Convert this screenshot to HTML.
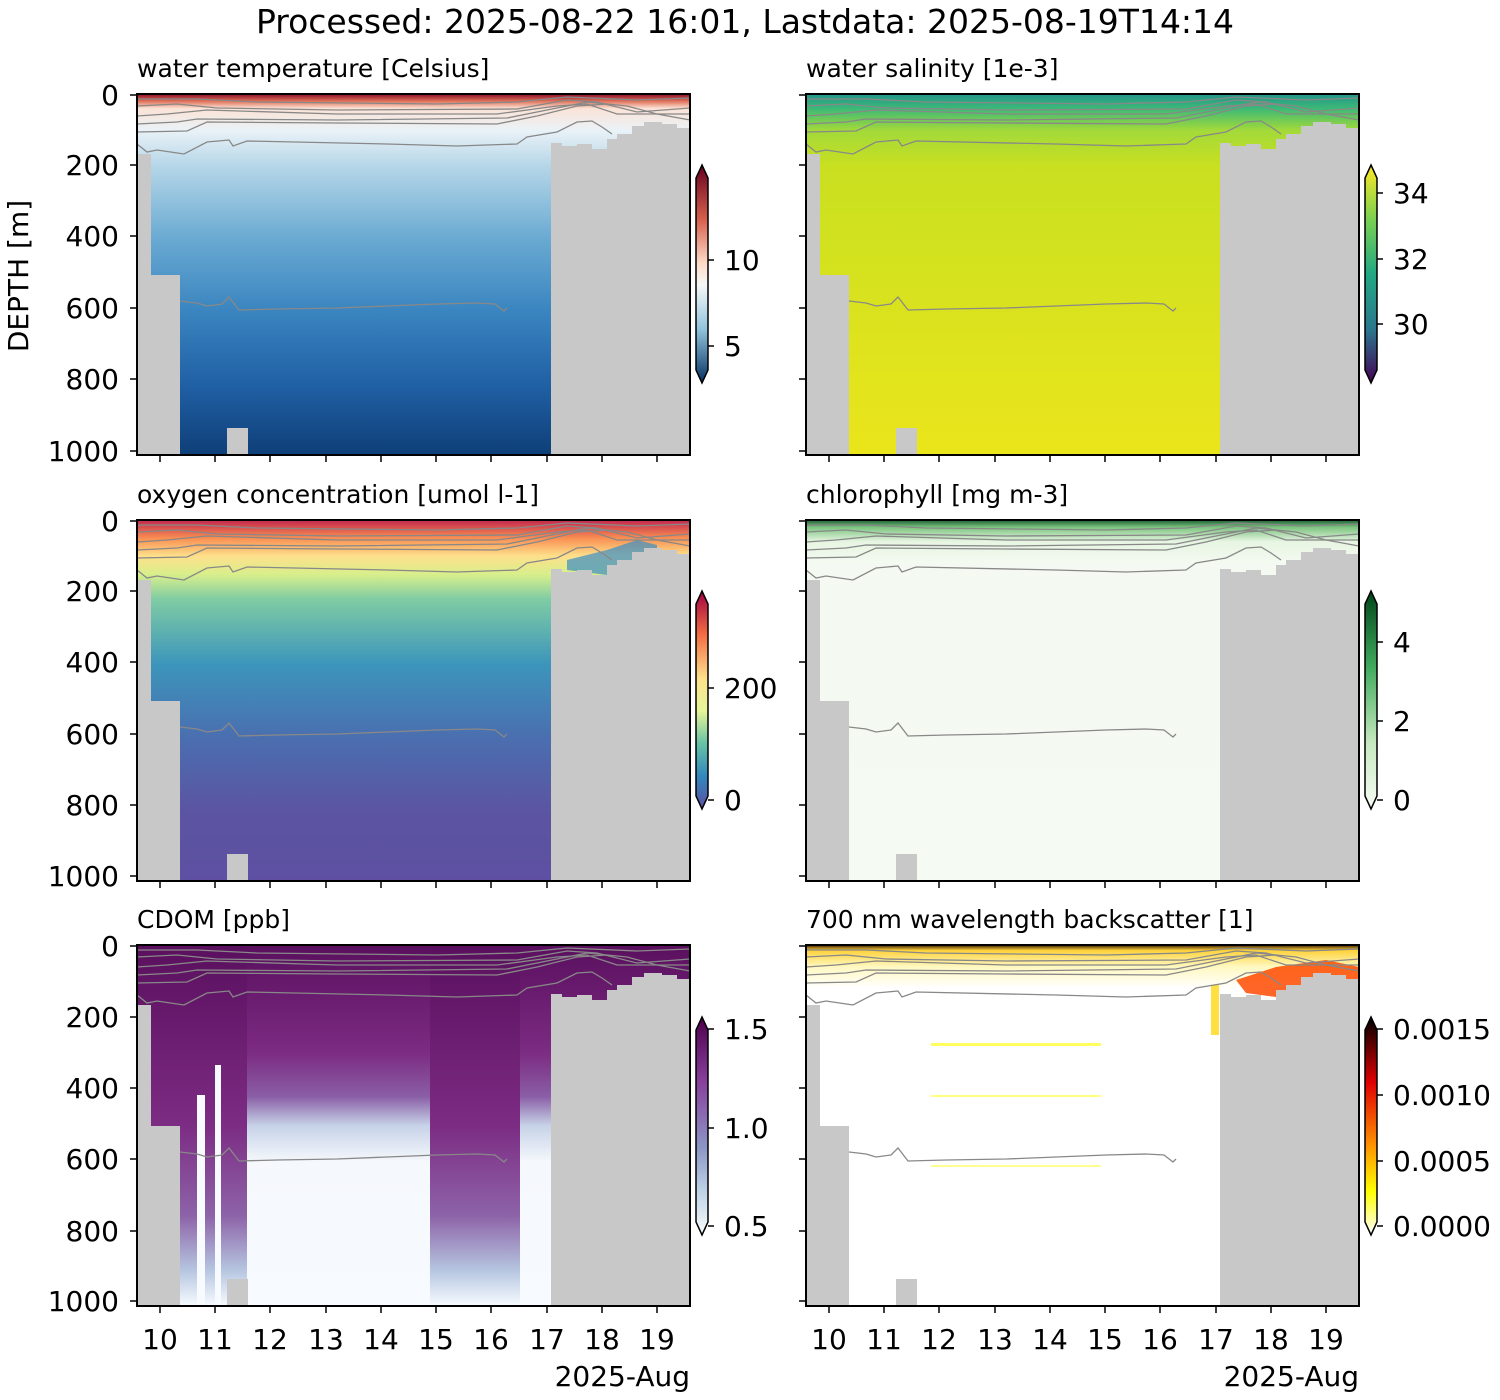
<!DOCTYPE html>
<html><head><meta charset="utf-8"><style>body{margin:0;background:#fff}svg{display:block}text{font-family:"DejaVu Sans","Liberation Sans",sans-serif;fill:#000}</style></head>
<body>
<svg width="1500" height="1400" viewBox="0 0 1500 1400" xmlns="http://www.w3.org/2000/svg">
<defs>
<linearGradient id="gT" x1="0" y1="0" x2="0" y2="1">
<stop offset="0" stop-color="#8b0a26"/><stop offset="0.02" stop-color="#e0735a"/><stop offset="0.04" stop-color="#fbe3d6"/><stop offset="0.1" stop-color="#eaf2f7"/><stop offset="0.2" stop-color="#b5d6e8"/><stop offset="0.4" stop-color="#6aaad2"/><stop offset="0.6" stop-color="#3a85c0"/><stop offset="0.8" stop-color="#2161a6"/><stop offset="1" stop-color="#0e3f78"/></linearGradient>
<linearGradient id="gS" x1="0" y1="0" x2="0" y2="1">
<stop offset="0" stop-color="#22958b"/><stop offset="0.04" stop-color="#3cb977"/><stop offset="0.1" stop-color="#a2d93a"/><stop offset="0.2" stop-color="#c9e020"/><stop offset="1" stop-color="#ebe51b"/></linearGradient>
<linearGradient id="gO" x1="0" y1="0" x2="0" y2="1">
<stop offset="0" stop-color="#c2264d"/><stop offset="0.05" stop-color="#f98e52"/><stop offset="0.1" stop-color="#fee08b"/><stop offset="0.15" stop-color="#d9ef8b"/><stop offset="0.22" stop-color="#7fcca4"/><stop offset="0.4" stop-color="#3c95bb"/><stop offset="0.6" stop-color="#4a6fb0"/><stop offset="0.8" stop-color="#5b55a3"/><stop offset="1" stop-color="#5e4fa2"/></linearGradient>
<linearGradient id="gC" x1="0" y1="0" x2="0" y2="1">
<stop offset="0" stop-color="#195c32"/><stop offset="0.02" stop-color="#7cc47f"/><stop offset="0.06" stop-color="#e7f5e2"/><stop offset="0.12" stop-color="#f4faf1"/><stop offset="1" stop-color="#f5fbf2"/></linearGradient>
<linearGradient id="gD" x1="0" y1="0" x2="0" y2="1">
<stop offset="0" stop-color="#5a0f5e"/><stop offset="0.3" stop-color="#7c2c83"/><stop offset="0.42" stop-color="#8a5ea6"/><stop offset="0.5" stop-color="#c6d2e7"/><stop offset="0.6" stop-color="#f5f8fc"/><stop offset="1" stop-color="#f7fbff"/></linearGradient>
<linearGradient id="gD2" x1="0" y1="0" x2="0" y2="1">
<stop offset="0" stop-color="#5a0f5e"/><stop offset="0.5" stop-color="#7c2c83"/><stop offset="0.75" stop-color="#8d63a8"/><stop offset="0.9" stop-color="#b5c5e0"/><stop offset="1" stop-color="#f7fbff"/></linearGradient>
<linearGradient id="gB" x1="0" y1="0" x2="0" y2="1">
<stop offset="0" stop-color="#3a1a00"/><stop offset="0.015" stop-color="#ffd23a"/><stop offset="0.06" stop-color="#fff8c0"/><stop offset="0.12" stop-color="#ffffff"/><stop offset="1" stop-color="#ffffff"/></linearGradient>
<linearGradient id="cbT" x1="0" y1="0" x2="0" y2="1"><stop offset="0" stop-color="#67001f"/><stop offset="0.25" stop-color="#d6604d"/><stop offset="0.45" stop-color="#fddbc7"/><stop offset="0.55" stop-color="#f7f7f7"/><stop offset="0.75" stop-color="#92c5de"/><stop offset="1" stop-color="#053061"/></linearGradient>
<linearGradient id="cbS" x1="0" y1="0" x2="0" y2="1"><stop offset="0" stop-color="#fde725"/><stop offset="0.25" stop-color="#7ad151"/><stop offset="0.5" stop-color="#22a884"/><stop offset="0.75" stop-color="#2a788e"/><stop offset="1" stop-color="#440154"/></linearGradient>
<linearGradient id="cbO" x1="0" y1="0" x2="0" y2="1"><stop offset="0" stop-color="#9e0142"/><stop offset="0.2" stop-color="#f46d43"/><stop offset="0.4" stop-color="#fee08b"/><stop offset="0.55" stop-color="#e6f598"/><stop offset="0.7" stop-color="#66c2a5"/><stop offset="0.85" stop-color="#3288bd"/><stop offset="1" stop-color="#5e4fa2"/></linearGradient>
<linearGradient id="cbC" x1="0" y1="0" x2="0" y2="1"><stop offset="0" stop-color="#00441b"/><stop offset="0.35" stop-color="#41ab5d"/><stop offset="0.7" stop-color="#c7e9c0"/><stop offset="1" stop-color="#f7fcf5"/></linearGradient>
<linearGradient id="cbD" x1="0" y1="0" x2="0" y2="1"><stop offset="0" stop-color="#4d004b"/><stop offset="0.3" stop-color="#88419d"/><stop offset="0.6" stop-color="#8c96c6"/><stop offset="0.8" stop-color="#bfd3e6"/><stop offset="1" stop-color="#f7fcfd"/></linearGradient>
<linearGradient id="cbB" x1="0" y1="0" x2="0" y2="1"><stop offset="0" stop-color="#000"/><stop offset="0.3" stop-color="#e00000"/><stop offset="0.6" stop-color="#ff9900"/><stop offset="0.8" stop-color="#ffff00"/><stop offset="1" stop-color="#fff"/></linearGradient>
<path id="grey" fill="#c8c8c8" d="M0,60 H14 V181 H43 V361 H0Z M90,334 H111 V361 H90Z M414,49 H425 V52 H440 V50 H455 V55 H470 V45 H480 V40 H495 V32 H507 V28 H525 V30 H540 V34 H553 V361 H414Z"/>
<g id="ct" fill="none" stroke="#888" stroke-width="1.3">
<path d="M0,5 L60,5 L120,8 L300,10 L380,8 L430,3 L500,6 L553,4"/>
<path d="M0,12 L40,10 L80,14 L200,16 L380,15 L430,6 L460,8 L500,18 L553,14"/>
<path d="M0,22 L30,20 L70,16 L200,20 L360,20 L420,12 L450,10 L480,20 L553,20"/>
<path d="M0,30 L40,28 L60,25 L200,26 L370,24 L420,14 L450,8 L490,12 L520,20 L553,26"/>
<path d="M0,38 L50,37 L70,28 L200,29 L360,30 L400,22 L440,12 L470,10"/>
<path d="M0,50 L10,58 L20,56 L47,60 L70,48 L92,46 L96,52 L110,47 L250,50 L320,52 L380,50 L390,43 L420,38 L440,28 L455,27 L465,33 L475,40"/>
<path d="M43,207 L60,209 L70,212 L85,210 L92,203 L102,216 L140,215 L200,214 L300,210 L340,209 L358,210 L367,217 L370,214"/>
</g>
</defs>

<text x="745" y="33" font-size="33" text-anchor="middle">Processed: 2025-08-22 16:01, Lastdata: 2025-08-19T14:14</text>

<g transform="translate(137,94)">
<rect width="553" height="361" fill="url(#gT)"/>
<use href="#grey"/><use href="#ct"/>
<rect width="553" height="361" fill="none" stroke="#000" stroke-width="2"/>
<text x="0" y="-17" font-size="25">water temperature [Celsius]</text>
</g>
<g transform="translate(806,94)">
<rect width="553" height="361" fill="url(#gS)"/>
<use href="#grey"/><use href="#ct"/>
<rect width="553" height="361" fill="none" stroke="#000" stroke-width="2"/>
<text x="0" y="-17" font-size="25">water salinity [1e-3]</text>
</g>
<g transform="translate(137,520)">
<rect width="553" height="361" fill="url(#gO)"/>
<path d="M430,40 L470,30 L500,20 L520,25 L520,60 L470,55 L430,50Z" fill="#3a8fc5" opacity="0.7"/>
<use href="#grey"/><use href="#ct"/>
<rect width="553" height="361" fill="none" stroke="#000" stroke-width="2"/>
<text x="0" y="-17" font-size="25">oxygen concentration [umol l-1]</text>
</g>
<g transform="translate(806,520)">
<rect width="553" height="361" fill="url(#gC)"/>
<use href="#grey"/><use href="#ct"/>
<rect width="553" height="361" fill="none" stroke="#000" stroke-width="2"/>
<text x="0" y="-17" font-size="25">chlorophyll [mg m-3]</text>
</g>
<g transform="translate(137,945)">
<rect width="553" height="361" fill="url(#gD)"/>
<rect x="0" width="110" height="361" fill="url(#gD2)"/>
<rect x="293" width="90" height="361" fill="url(#gD2)"/>
<rect x="60" y="150" width="8" height="210" fill="#f7fbff"/>
<rect x="78" y="120" width="6" height="240" fill="#f7fbff"/>
<use href="#grey"/><use href="#ct"/>
<rect width="553" height="361" fill="none" stroke="#000" stroke-width="2"/>
<text x="0" y="-17" font-size="25">CDOM [ppb]</text>
</g>
<g transform="translate(806,945)">
<rect width="553" height="361" fill="url(#gB)"/>
<rect x="125" y="98" width="170" height="3" fill="#ffff60"/>
<rect x="125" y="150" width="170" height="2" fill="#ffff80"/>
<rect x="125" y="220" width="170" height="2" fill="#ffff90"/>
<rect x="405" y="40" width="8" height="50" fill="#ffe040"/>
<path d="M430,35 L470,22 L520,15 L553,22 L553,35 L500,40 L470,52 L440,48Z" fill="#ff4a00" opacity="0.85"/>
<use href="#grey"/><use href="#ct"/>
<rect width="553" height="361" fill="none" stroke="#000" stroke-width="2"/>
<text x="0" y="-17" font-size="25">700 nm wavelength backscatter [1]</text>
</g>

<g stroke="#000" stroke-width="1.5">
<path d="M130,95 h7 M130,165 h7 M130,236 h7 M130,308 h7 M130,379 h7 M130,451 h7"/>
<path d="M799,95 h7 M799,165 h7 M799,236 h7 M799,308 h7 M799,379 h7 M799,451 h7"/>
<path d="M130,521 h7 M130,591 h7 M130,662 h7 M130,734 h7 M130,805 h7 M130,876 h7"/>
<path d="M799,521 h7 M799,591 h7 M799,662 h7 M799,734 h7 M799,805 h7 M799,876 h7"/>
<path d="M130,946 h7 M130,1017 h7 M130,1088 h7 M130,1159 h7 M130,1231 h7 M130,1301 h7"/>
<path d="M799,946 h7 M799,1017 h7 M799,1088 h7 M799,1159 h7 M799,1231 h7 M799,1301 h7"/>
</g>
<g font-size="28" text-anchor="end">
<text x="119" y="105">0</text><text x="119" y="175">200</text><text x="119" y="246">400</text><text x="119" y="318">600</text><text x="119" y="389">800</text><text x="119" y="461">1000</text>
<text x="119" y="531">0</text><text x="119" y="601">200</text><text x="119" y="672">400</text><text x="119" y="744">600</text><text x="119" y="815">800</text><text x="119" y="886">1000</text>
<text x="119" y="956">0</text><text x="119" y="1027">200</text><text x="119" y="1098">400</text><text x="119" y="1169">600</text><text x="119" y="1241">800</text><text x="119" y="1311">1000</text>
</g>
<text transform="translate(28,276) rotate(-90)" font-size="28" text-anchor="middle">DEPTH [m]</text>

<g stroke="#000" stroke-width="1.5">
<path id="xt" d="M160,455v7M215,455v7M270,455v7M326,455v7M381,455v7M436,455v7M491,455v7M547,455v7M602,455v7M657,455v7"/>
<use href="#xt" transform="translate(669,0)"/>
<use href="#xt" transform="translate(0,426)"/>
<use href="#xt" transform="translate(669,426)"/>
<use href="#xt" transform="translate(0,851)"/>
<use href="#xt" transform="translate(669,851)"/>
</g>
<g font-size="28" text-anchor="middle">
<text x="160" y="1349">10</text><text x="215" y="1349">11</text><text x="270" y="1349">12</text><text x="326" y="1349">13</text><text x="381" y="1349">14</text><text x="436" y="1349">15</text><text x="491" y="1349">16</text><text x="547" y="1349">17</text><text x="602" y="1349">18</text><text x="657" y="1349">19</text>
<text x="829" y="1349">10</text><text x="884" y="1349">11</text><text x="939" y="1349">12</text><text x="995" y="1349">13</text><text x="1050" y="1349">14</text><text x="1105" y="1349">15</text><text x="1160" y="1349">16</text><text x="1216" y="1349">17</text><text x="1271" y="1349">18</text><text x="1326" y="1349">19</text>
</g>
<text x="690" y="1386" font-size="28" text-anchor="end">2025-Aug</text>
<text x="1359" y="1386" font-size="28" text-anchor="end">2025-Aug</text>

<g stroke="#000" stroke-width="1.5">
<path d="M702,165 L708,178 V370 L702,383 L696,370 V178Z" fill="url(#cbT)"/>
<path d="M1371,165 L1377,178 V370 L1371,383 L1365,370 V178Z" fill="url(#cbS)"/>
<path d="M702,591 L708,604 V796 L702,809 L696,796 V604Z" fill="url(#cbO)"/>
<path d="M1371,591 L1377,604 V796 L1371,809 L1365,796 V604Z" fill="url(#cbC)"/>
<path d="M702,1017 L708,1030 V1222 L702,1235 L696,1222 V1030Z" fill="url(#cbD)"/>
<path d="M1371,1017 L1377,1030 V1222 L1371,1235 L1365,1222 V1030Z" fill="url(#cbB)"/>
<path d="M708,260h6M708,346h6M1377,193h6M1377,259h6M1377,324h6M708,688h6M708,800h6M1377,642h6M1377,721h6M1377,800h6M708,1029h6M708,1128h6M708,1226h6M1377,1029h6M1377,1095h6M1377,1161h6M1377,1226h6"/>
</g>
<g font-size="28">
<text x="724" y="270">10</text><text x="724" y="356">5</text>
<text x="1393" y="203">34</text><text x="1393" y="269">32</text><text x="1393" y="334">30</text>
<text x="724" y="698">200</text><text x="724" y="810">0</text>
<text x="1393" y="652">4</text><text x="1393" y="731">2</text><text x="1393" y="810">0</text>
<text x="724" y="1039">1.5</text><text x="724" y="1138">1.0</text><text x="724" y="1236">0.5</text>
<text x="1393" y="1039">0.0015</text><text x="1393" y="1105">0.0010</text><text x="1393" y="1171">0.0005</text><text x="1393" y="1236">0.0000</text>
</g>
</svg>
</body></html>
